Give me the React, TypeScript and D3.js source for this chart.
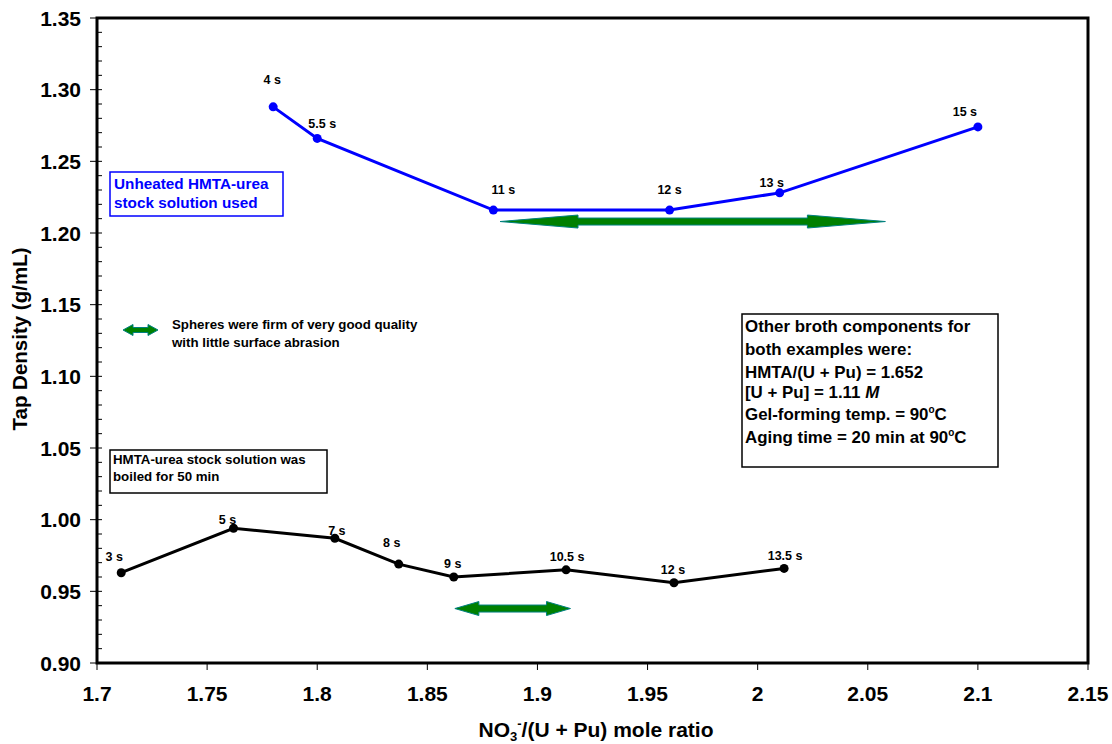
import React from 'react';
import * as d3 from 'd3';

// upper series: unheated HMTA-urea stock
const unheatedX = [1.78, 1.8, 1.88, 1.96, 2.01, 2.1];
const unheatedY = [1.288, 1.266, 1.216, 1.216, 1.228, 1.274];
const unheatedLabels = ['4 s', '5.5 s', '11 s', '12 s', '13 s', '15 s'];

// lower series: stock boiled for 50 min
const boiledX = [1.711, 1.762, 1.808, 1.837, 1.862, 1.913, 1.962, 2.012];
const boiledY = [0.963, 0.994, 0.987, 0.969, 0.96, 0.965, 0.956, 0.966];
const boiledLabels = ['3 s', '5 s', '7 s', '8 s', '9 s', '10.5 s', '12 s', '13.5 s'];

// good-quality ranges (green arrows)
const rangeStart = [1.883, 1.8625];
const rangeEnd = [2.058, 1.915];
const rangeY = [1.208, 0.938];

const xTicks = [1.7, 1.75, 1.8, 1.85, 1.9, 1.95, 2.0, 2.05, 2.1, 2.15];
const yTicks = [0.9, 0.95, 1.0, 1.05, 1.1, 1.15, 1.2, 1.25, 1.3, 1.35];

// label nudges (px) relative to each point
const unheatedLabelOffsets = [[-1, -23], [5, -10], [10, -16], [0, -16], [-8, -6], [-13, -11]];
const boiledLabelOffsets = [[-7, -12], [-6, -4], [2, -3], [-7, -17], [-1, -9], [1, -9], [-1, -9], [1, -8]];

const W = 1112;
const H = 744;
const margin = { top: 18, right: 24, bottom: 81, left: 97 };
const FONT = '"Liberation Sans", Arial, Helvetica, sans-serif';

function arrowPath(x1: number, x2: number, y: number, headLen: number, headH: number, shaftH: number) {
  const p = [
    [x1, y],
    [x1 + headLen, y - headH / 2],
    [x1 + headLen, y - shaftH / 2],
    [x2 - headLen, y - shaftH / 2],
    [x2 - headLen, y - headH / 2],
    [x2, y],
    [x2 - headLen, y + headH / 2],
    [x2 - headLen, y + shaftH / 2],
    [x1 + headLen, y + shaftH / 2],
    [x1 + headLen, y + headH / 2],
  ];
  return 'M' + p.map(d => d.join(',')).join('L') + 'Z';
}

function Deg() {
  return (
    <>
      <tspan dy={-7} fontSize={10}>o</tspan>
      <tspan dy={7}>C</tspan>
    </>
  );
}

export default function App() {
  const x = d3.scaleLinear().domain([1.7, 2.15]).range([margin.left, W - margin.right]);
  const y = d3.scaleLinear().domain([0.9, 1.35]).range([H - margin.bottom, margin.top]);
  const x0 = x.range()[0], x1 = x.range()[1];
  const y0 = y.range()[0], y1 = y.range()[1];

  const line = d3.line<[number, number]>().x(d => x(d[0])).y(d => y(d[1]));
  const unheated = unheatedX.map((v, i) => [v, unheatedY[i]] as [number, number]);
  const boiled = boiledX.map((v, i) => [v, boiledY[i]] as [number, number]);

  const minorTicks = d3.range(0, 46).map(i => 0.9 + i * 0.01);
  const fmtX = (v: number) => String(+v.toFixed(2));

  return (
    <svg width={W} height={H} style={{ position: 'absolute', left: 0, top: 0, background: '#fff' }}
      fontFamily={FONT} fontWeight="bold">
      {/* minor y ticks inside */}
      {minorTicks.map((t, i) => (
        <line key={'m' + i} x1={x0} x2={x0 + 5} y1={y(t)} y2={y(t)} stroke="#000" strokeWidth={1} />
      ))}
      {yTicks.map(t => (
        <g key={'y' + t}>
          <line x1={x0 - 7} x2={x0} y1={y(t)} y2={y(t)} stroke="#000" strokeWidth={1} />
          <text x={81} y={y(t) + 7.5} textAnchor="end" fontSize={21}>{t.toFixed(2)}</text>
        </g>
      ))}
      {xTicks.map(t => (
        <g key={'x' + t}>
          <line x1={x(t)} x2={x(t)} y1={y0} y2={y0 + 7} stroke="#000" strokeWidth={1} />
          <text x={x(t)} y={701} textAnchor="middle" fontSize={21}>{fmtX(t)}</text>
        </g>
      ))}

      {/* frame */}
      <rect x={x0} y={y1} width={x1 - x0} height={y0 - y1} fill="none" stroke="#000" strokeWidth={3} />

      {/* axis titles */}
      <text transform={`translate(27,${339}) rotate(-90)`} textAnchor="middle" fontSize={20.5}>
        Tap Density (g/mL)
      </text>
      <text x={596} y={737} textAnchor="middle" fontSize={21}>
        NO<tspan dy={4} fontSize={13}>3</tspan><tspan dy={-13} fontSize={13}>-</tspan>
        <tspan dy={9}>/(U + Pu) mole ratio</tspan>
      </text>

      {/* green ranges */}
      <path d={arrowPath(x(rangeStart[0]), x(rangeEnd[0]), y(rangeY[0]), 78, 13, 7)}
        fill="#008000" stroke="#008080" strokeWidth={1} />
      <path d={arrowPath(x(rangeStart[1]), x(rangeEnd[1]), y(rangeY[1]), 24, 14, 7)}
        fill="#008000" stroke="#008080" strokeWidth={1} />

      {/* series */}
      <path d={line(unheated) || ''} fill="none" stroke="#0000ff" strokeWidth={3} />
      {unheated.map((d, i) => (
        <circle key={'u' + i} cx={x(d[0])} cy={y(d[1])} r={4.5} fill="#0000ff" />
      ))}
      {unheated.map((d, i) => (
        <text key={'ul' + i} x={x(d[0]) + unheatedLabelOffsets[i][0]} y={y(d[1]) + unheatedLabelOffsets[i][1]}
          textAnchor="middle" fontSize={12.5} fill="#000">{unheatedLabels[i]}</text>
      ))}
      <path d={line(boiled) || ''} fill="none" stroke="#000" strokeWidth={3} />
      {boiled.map((d, i) => (
        <circle key={'b' + i} cx={x(d[0])} cy={y(d[1])} r={4.5} fill="#000" />
      ))}
      {boiled.map((d, i) => (
        <text key={'bl' + i} x={x(d[0]) + boiledLabelOffsets[i][0]} y={y(d[1]) + boiledLabelOffsets[i][1]}
          textAnchor="middle" fontSize={12.5} fill="#000">{boiledLabels[i]}</text>
      ))}

      {/* annotation boxes */}
      <rect x={110} y={172} width={173} height={44} fill="#fff" stroke="#0000ff" strokeWidth={1.5} />
      <text x={114} y={189} fontSize={15.3} fill="#0000ff">Unheated HMTA-urea</text>
      <text x={114} y={208} fontSize={15.3} fill="#0000ff">stock solution used</text>

      <rect x={110} y={450} width={217} height={43} fill="#fff" stroke="#000" strokeWidth={1.5} />
      <text x={113} y={464} fontSize={13.3}>HMTA-urea stock solution was</text>
      <text x={113} y={481} fontSize={13.3}>boiled for 50 min</text>

      <path d={arrowPath(123, 158, 330, 10, 11, 5)} fill="#008000" stroke="#008080" strokeWidth={1} />
      <text x={172} y={329} fontSize={13.3}>Spheres were firm of very good quality</text>
      <text x={172} y={347} fontSize={13.3}>with little surface abrasion</text>

      <rect x={742} y={314} width={256} height={153} fill="#fff" stroke="#000" strokeWidth={1.5} />
      <g fontSize={16.9}>
        <text x={745} y={332}>Other broth components for</text>
        <text x={745} y={355}>both examples were:</text>
        <text x={745} y={378}>HMTA/(U + Pu) = 1.652</text>
        <text x={745} y={398}>[U + Pu] = 1.11 <tspan fontStyle="italic">M</tspan></text>
        <text x={745} y={420}>Gel-forming temp. = 90<Deg /></text>
        <text x={745} y={443}>Aging time = 20 min at 90<Deg /></text>
      </g>
    </svg>
  );
}
